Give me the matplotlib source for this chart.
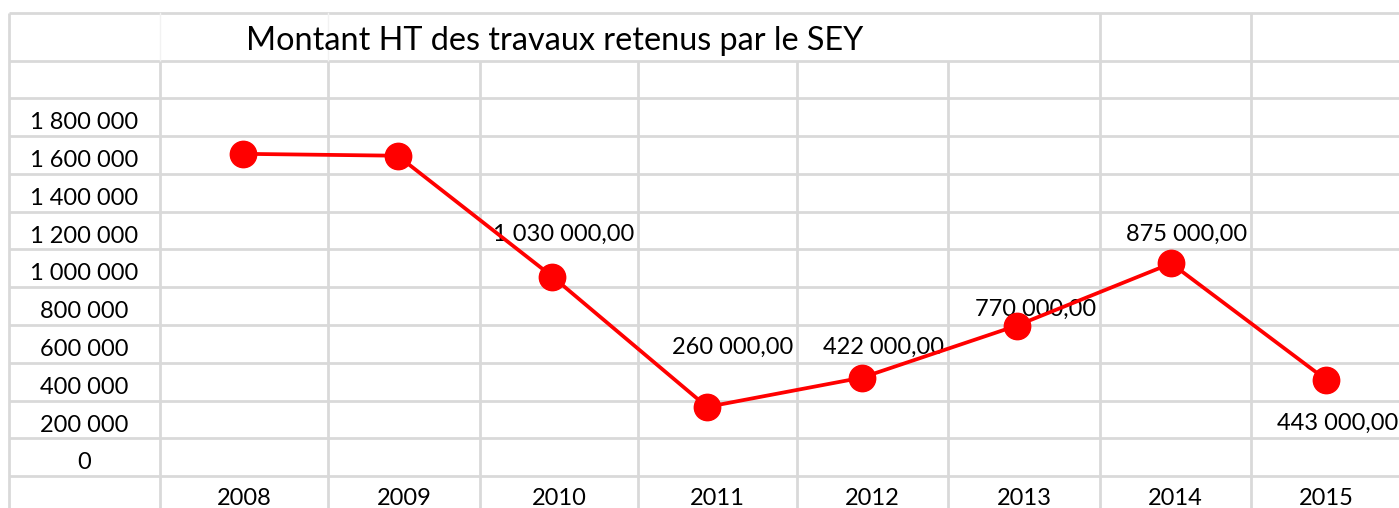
import matplotlib
matplotlib.use('Agg')
import matplotlib.pyplot as plt

# Données
annees = ['2008', '2009', '2010', '2011', '2012', '2013', '2014', '2015']
montants = [1605000, 1595000, 955000, 265000, 420000, 695000, 1025000, 410000]

# Contenu des cellules de la feuille
titre = 'Montant HT des travaux retenus par le SEY'
etiquettes_y = ['1 800 000', '1 600 000', '1 400 000', '1 200 000', '1 000 000',
                '800 000', '600 000', '400 000', '200 000', '0']
valeurs_cellules = ['1 030 000,00', '260 000,00', '422 000,00',
                    '770 000,00', '875 000,00', '443 000,00']

# Mise en page de la feuille (pixels)
W, H = 1399, 508
lignes = [13, 61, 98, 136, 174, 212, 249, 287, 325, 363, 401, 438, 476, 514]
colonnes = [9, 160, 328, 480, 638, 797, 948, 1100, 1251, 1402]
col_valeurs = [3, 4, 5, 6, 7, 8]        # colonnes des cellules 2010..2015
lig_valeurs = [5, 8, 8, 7, 5, 10]       # lignes de ces cellules
gris = '#d9d9d9'

plt.rcParams['font.family'] = ['Lato', 'DejaVu Sans']

fig = plt.figure(figsize=(W / 100, H / 100), dpi=100)
fig.patch.set_facecolor('white')

# Fond : la grille du tableur
bg = fig.add_axes([0, 0, 1, 1])
bg.set_xlim(0, W)
bg.set_ylim(H, 0)
bg.axis('off')

for y in lignes[:-1]:
    bg.plot([colonnes[0], W], [y, y], color=gris, lw=2.0, solid_capstyle='butt')
for i, x in enumerate(colonnes[:-1]):
    if i == 0 or i >= 7:
        bg.plot([x, x], [lignes[0], H], color=gris, lw=2.0, solid_capstyle='butt')
    else:
        if i <= 2:
            bg.plot([x, x], [lignes[0], lignes[1]], color='#f2f2f2', lw=1.0)
        bg.plot([x, x], [lignes[1], H], color=gris, lw=2.0, solid_capstyle='butt')

# Titre (cellules fusionnées A..H)
bg.text((colonnes[0] + colonnes[7]) / 2, 50, titre, ha='center', va='baseline',
        fontsize=23.3, color='black')

# Colonne A : valeurs de l'axe
xa = (colonnes[0] + colonnes[1]) / 2
for k, lab in enumerate(etiquettes_y):
    bg.text(xa, lignes[2 + k] + 31, lab, ha='center', va='baseline',
            fontsize=17, color='black')

# Ligne des années
for k, an in enumerate(annees):
    xc = (colonnes[1 + k] + colonnes[2 + k]) / 2
    bg.text(xc, lignes[12] + 29, an, ha='center', va='baseline',
            fontsize=17, color='black')

# Cellules numériques (alignées à droite)
for lab, c, r in zip(valeurs_cellules, col_valeurs, lig_valeurs):
    bg.text(colonnes[c + 1] - 4, lignes[r] + 29, lab, ha='right', va='baseline',
            fontsize=17, color='black')

# Graphique superposé
x0, dx = 243.0, 154.7          # pixel de la catégorie 0, pas entre catégories
y0, dy = 457.0, 340.0 / 1800000  # pixel de la valeur 0, pixels par euro
ax = fig.add_axes([0, 0, 1, 1])
ax.patch.set_alpha(0)
ax.set_xlim(-x0 / dx, (W - x0) / dx)
ax.set_ylim((y0 - H) / dy, y0 / dy)
ax.axis('off')

ax.plot(range(len(annees)), montants, color='#ff0000', lw=2.7,
        marker='o', markersize=19, markerfacecolor='#ff0000',
        markeredgecolor='#ff0000', zorder=3)

fig.savefig('out.png', dpi=100)
